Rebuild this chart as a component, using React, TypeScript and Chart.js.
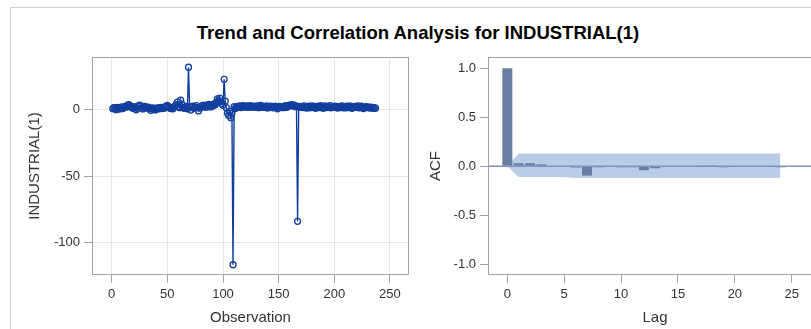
import React, { useEffect, useRef } from "react";
import { Chart, registerables } from "chart.js";

Chart.register(...registerables);

const chartTitle = "Trend and Correlation Analysis for INDUSTRIAL(1)";

// INDUSTRIAL(1) series by observation (1..237)
const industrialDiff = [
  0.5, 1.2, 0.8, -0.3, 1.5, 0.9, 0.2, 1.1, 1.8, 0.6,
  1.3, 2.1, 1.6, 2.8, 3.4, 3.1, 2.2, 1.4, 0.7, 1.9,
  1.2, -0.4, 0.8, 2.5, 3.2, 2.6, 1.0, 0.3, 1.7, 2.2,
  1.4, 0.9, 1.6, 0.5, -0.8, 0.4, 1.1, 0.2, -0.5, 0.7,
  1.0, 0.3, 0.9, 1.5, 0.6, 1.2, 0.8, 1.9, 2.4, 2.9,
  2.0, 1.1, 0.6, 1.3, 0.4, 1.8, 2.6, 3.5, 5.4, 2.1,
  1.2, 6.8, 3.9, 1.5, 0.8, 1.2, 2.1, 0.4, 31.5, 1.8,
  -0.6, 1.5, 2.3, 0.7, 1.6, 2.8, 1.3, -1.2, 0.9, 2.0,
  2.6, 1.7, 3.1, 2.4, 1.5, 2.9, 3.6, 2.2, 1.8, 3.3,
  2.7, 4.1, 3.5, 5.2, 7.8, 6.5, 8.4, 5.9, 4.3, 3.0,
  22.5, 6.1, 1.2, -2.8, -4.5, -1.6, -6.3, -3.0, -116.5, 1.9,
  0.6, 1.4, 2.2, 1.8, 2.5, 1.3, 2.0, 2.7, 1.6, 2.3,
  1.9, 2.6, 1.4, 2.1, 2.8, 1.7, 2.2, 1.5, 2.4, 1.8,
  2.5, 1.2, 2.0, 2.9, 1.6, 2.2, 1.4, 1.9, 2.6, 0.9,
  1.7, 2.3, 1.5, 2.1, 1.1, 1.8, 2.4, 1.3, 0.4, 1.6,
  2.2, 1.5, 2.0, 1.2, 1.9, 2.7, 1.4, 2.1, 2.9, 3.2,
  2.6, 3.4, 2.8, 3.1, 2.0, 2.4, -84.0, 1.7, 2.2, 1.5,
  2.0, 1.3, 2.5, 1.8, 0.9, 1.6, 2.3, 1.1, 1.9, 2.6,
  1.4, 2.1, 0.8, 1.7, 2.4, 1.2, 1.9, 2.8, 1.5, 0.7,
  1.8, 2.5, 1.3, 2.0, 1.6, 2.7, 1.1, 1.8, 2.2, 1.4,
  2.3, 1.7, 0.9, 1.5, 2.1, 1.3, 2.6, 1.8, 1.0, 1.7,
  2.4, 1.2, 1.9, 2.6, 1.5, 0.8, 1.6, 2.2, 1.4, 1.9,
  2.5, 1.1, 1.7, 2.3, 1.3, 0.6, 1.5, 2.0, 1.2, 1.8,
  1.4, 0.9, 1.6, 1.2, 0.7, 1.3, 0.8,
];
const obsTicks = [0, 50, 100, 150, 200, 250];
const valueTicks = [-100, -50, 0];

// Autocorrelation function
const acfLags = [0, 1, 2, 3, 4, 5, 6, 7, 8, 9, 10, 11, 12, 13, 14, 15, 16, 17, 18, 19, 20, 21, 22, 23, 24];
const acfValues = [
  1.0, 0.032, 0.032, 0.02, 0.005, 0.005, -0.012, -0.095, -0.01, -0.003,
  -0.01, -0.01, -0.04, -0.02, 0.0, 0.0, 0.0, 0.002, 0.008, -0.01,
  0.0, 0.0, 0.0, 0.0, -0.01,
];
const bandUpper = [
  0, 0.13, 0.13, 0.13, 0.13, 0.13, 0.13, 0.13, 0.13, 0.13,
  0.13, 0.13, 0.13, 0.13, 0.13, 0.13, 0.13, 0.13, 0.13, 0.13,
  0.13, 0.13, 0.13, 0.13, 0.13,
];
const bandLower = [
  0, -0.11, -0.11, -0.11, -0.11, -0.11, -0.12, -0.12, -0.12, -0.12,
  -0.12, -0.12, -0.12, -0.12, -0.12, -0.12, -0.12, -0.12, -0.12, -0.12,
  -0.12, -0.12, -0.12, -0.12, -0.12,
];
const lagTicks = [0, 5, 10, 15, 20, 25];
const acfTicks = [-1, -0.5, 0, 0.5, 1];

const FONT = "'Liberation Sans', Arial, sans-serif";
const TEXT = "#333333";
const FRAME = "#a3a3a3";

const framePlugin = {
  id: "frame",
  afterDatasetsDraw(chart: any) {
    const { ctx, chartArea } = chart;
    const l = Math.round(chartArea.left) + 0.5;
    const t = Math.round(chartArea.top) + 0.5;
    const r = Math.round(chartArea.right) - 0.5;
    const b = Math.round(chartArea.bottom) - 0.5;
    ctx.save();
    ctx.strokeStyle = FRAME;
    ctx.lineWidth = 1;
    ctx.strokeRect(l, t, r - l, b - t);
    ctx.restore();
  },
};

const zeroLinePlugin = {
  id: "zeroLine",
  afterDatasetsDraw(chart: any) {
    if (chart.canvas.dataset.kind !== "acf") return;
    const { ctx, chartArea, scales } = chart;
    const y = scales.y.getPixelForValue(0);
    ctx.save();
    ctx.strokeStyle = "#7f94b9";
    ctx.lineWidth = 1.6;
    ctx.beginPath();
    ctx.moveTo(chartArea.left, y);
    ctx.lineTo(chartArea.right, y);
    ctx.stroke();
    ctx.restore();
  },
};

const tickFont = { family: FONT, size: 13 };
const labelFont = { family: FONT, size: 15 };

function fixTicks(values: number[]) {
  return (scale: any) => {
    scale.ticks = values.map((v) => ({ value: v }));
  };
}

export default function App() {
  const leftRef = useRef<HTMLCanvasElement | null>(null);
  const rightRef = useRef<HTMLCanvasElement | null>(null);

  useEffect(() => {
    const obs = industrialDiff.map((_, i) => i + 1);
    const left = new Chart(leftRef.current as HTMLCanvasElement, {
      type: "line",
      data: {
        datasets: [
          {
            data: industrialDiff.map((v, i) => ({ x: obs[i], y: v })),
            borderColor: "#123f9f",
            borderWidth: 1.4,
            pointRadius: 3,
            pointBorderWidth: 1.3,
            pointBorderColor: "#123f9f",
            pointBackgroundColor: "rgba(255,255,255,0)",
            tension: 0,
          },
        ],
      },
      options: {
        animation: false,
        responsive: false,
        maintainAspectRatio: false,
        layout: { padding: { top: 17, right: 11, left: 0, bottom: 0 } },
        plugins: { legend: { display: false }, tooltip: { enabled: false } },
        scales: {
          x: {
            type: "linear",
            min: -17.7,
            max: 267.1,
            offset: false,
            afterBuildTicks: fixTicks(obsTicks),
            afterFit: (s: any) => {
              s.height = 54;
            },
            grid: { color: "#e6e6e6", tickColor: FRAME, tickLength: 8, drawTicks: true, offset: false },
            border: { display: false },
            ticks: { font: tickFont, color: TEXT, padding: 4, maxRotation: 0 },
            title: { display: true, text: "Observation", font: labelFont, color: TEXT, padding: { top: 0, bottom: 2 } },
          },
          y: {
            type: "linear",
            min: -124.2,
            max: 39.2,
            afterBuildTicks: fixTicks(valueTicks),
            afterFit: (s: any) => {
              s.width = 92;
            },
            grid: { color: "#e6e6e6", tickColor: FRAME, tickLength: 8, drawTicks: true },
            border: { display: false },
            ticks: { font: tickFont, color: TEXT, padding: 4 },
            title: { display: true, text: "INDUSTRIAL(1)", font: labelFont, color: TEXT, padding: { top: 26, bottom: 0 } },
          },
        },
      },
      plugins: [framePlugin],
    } as any);

    const right = new Chart(rightRef.current as HTMLCanvasElement, {
      type: "bar",
      data: {
        datasets: [
          {
            type: "bar",
            data: acfLags.map((l, i) => ({ x: l, y: acfValues[i] })),
            backgroundColor: "#687ea5",
            borderWidth: 0,
            barPercentage: 0.88,
            categoryPercentage: 1,
            order: 0,
          },
          {
            type: "line",
            data: acfLags.map((l, i) => ({ x: l, y: bandUpper[i] })),
            borderWidth: 0,
            pointRadius: 0,
            backgroundColor: "#b9cde6",
            fill: "+1",
            order: 1,
          },
          {
            type: "line",
            data: acfLags.map((l, i) => ({ x: l, y: bandLower[i] })),
            borderWidth: 0,
            pointRadius: 0,
            backgroundColor: "#b9cde6",
            fill: false,
            order: 2,
          },
        ],
      },
      options: {
        animation: false,
        responsive: false,
        maintainAspectRatio: false,
        layout: { padding: { top: 17, right: 18, left: 0, bottom: 0 } },
        plugins: { legend: { display: false }, tooltip: { enabled: false } },
        scales: {
          x: {
            type: "linear",
            min: -1.7,
            max: 27.66,
            offset: false,
            afterBuildTicks: fixTicks(lagTicks),
            afterFit: (s: any) => {
              s.height = 54;
            },
            grid: { drawOnChartArea: false, tickColor: FRAME, tickLength: 8, drawTicks: true, offset: false },
            border: { display: false },
            ticks: { font: tickFont, color: TEXT, padding: 4, maxRotation: 0 },
            title: { display: true, text: "Lag", font: labelFont, color: TEXT, padding: { top: 0, bottom: 2 } },
          },
          y: {
            type: "linear",
            min: -1.109,
            max: 1.115,
            afterBuildTicks: fixTicks(acfTicks),
            afterFit: (s: any) => {
              s.width = 68;
            },
            grid: { drawOnChartArea: false, tickColor: FRAME, tickLength: 8, drawTicks: true },
            border: { display: false },
            ticks: {
              font: tickFont,
              color: TEXT,
              padding: 4,
              callback: (v: any) => Number(v).toFixed(1),
            },
            title: { display: true, text: "ACF", font: labelFont, color: TEXT, padding: { top: 7, bottom: 0 } },
          },
        },
      },
      plugins: [framePlugin, zeroLinePlugin],
    } as any);

    return () => {
      left.destroy();
      right.destroy();
    };
  }, []);

  return (
    <div
      style={{
        position: "absolute",
        left: 0,
        top: 0,
        width: 811,
        height: 329,
        overflow: "hidden",
        background: "#ffffff",
      }}
    >
      <div
        style={{
          position: "absolute",
          left: 10,
          top: 7,
          width: 900,
          height: 400,
          border: "1px solid #d4d4d4",
          boxSizing: "border-box",
        }}
      />
      <div
        style={{
          position: "absolute",
          left: 0,
          top: 22,
          width: 836,
          textAlign: "center",
          fontFamily: FONT,
          fontWeight: "bold",
          fontSize: "18.5px",
          lineHeight: "22px",
          color: "#000000",
        }}
      >
        {chartTitle}
      </div>
      <canvas
        ref={leftRef}
        width={420}
        height={289}
        style={{ position: "absolute", left: 0, top: 40, width: 420, height: 289 }}
      />
      <canvas
        ref={rightRef}
        data-kind="acf"
        width={420}
        height={289}
        style={{ position: "absolute", left: 420, top: 40, width: 420, height: 289 }}
      />
    </div>
  );
}
